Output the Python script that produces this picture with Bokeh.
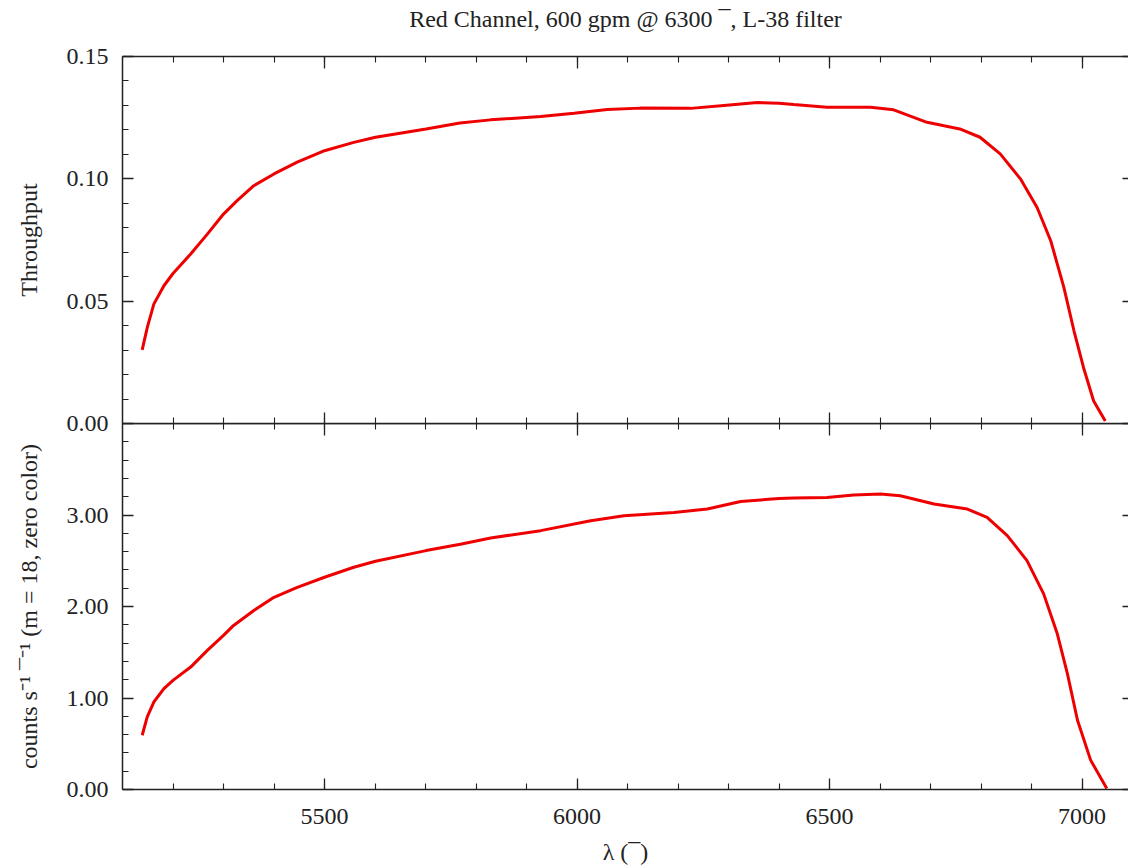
from bokeh.plotting import figure
from bokeh.layouts import column
from bokeh.models import LinearAxis, FixedTicker, NumeralTickFormatter, Range1d
from bokeh.embed import file_html
from bokeh.resources import INLINE

# ---- data ----
wave_top = [5139, 5149, 5162, 5182, 5200, 5235, 5268, 5300, 5327, 5360, 5400, 5446,
            5500, 5558, 5601, 5701, 5768, 5829, 5928, 5994, 6060, 6125, 6225, 6291,
            6357, 6400, 6429, 6495, 6581, 6627, 6693, 6758, 6798, 6838, 6878, 6911,
            6938, 6964, 6984, 7003, 7023, 7046]
throughput = [0.0301, 0.0392, 0.0488, 0.0563, 0.0613, 0.0693, 0.0774, 0.0856, 0.0911,
              0.0972, 0.1020, 0.1068, 0.1115, 0.1149, 0.1170, 0.1204, 0.1228, 0.1241,
              0.1255, 0.1268, 0.1283, 0.1289, 0.1288, 0.1300, 0.1312, 0.1309, 0.1304,
              0.1293, 0.1293, 0.1282, 0.1231, 0.1204, 0.1170, 0.1102, 0.1000, 0.0883,
              0.0747, 0.0556, 0.0379, 0.0228, 0.0092, 0.0010]

wave_bot = [5139, 5149, 5162, 5182, 5200, 5235, 5268, 5300, 5320, 5360, 5400, 5446,
            5500, 5558, 5601, 5701, 5769, 5829, 5928, 6027, 6093, 6192, 6258, 6324,
            6400, 6429, 6495, 6548, 6601, 6640, 6707, 6773, 6812, 6852, 6891, 6924,
            6951, 6971, 6991, 7017, 7049]
counts = [0.593, 0.793, 0.956, 1.102, 1.193, 1.338, 1.520, 1.684, 1.793, 1.956, 2.101,
          2.210, 2.320, 2.429, 2.494, 2.611, 2.680, 2.749, 2.829, 2.938, 2.992, 3.028,
          3.065, 3.148, 3.180, 3.185, 3.192, 3.218, 3.229, 3.210, 3.120, 3.065, 2.974,
          2.774, 2.502, 2.138, 1.702, 1.266, 0.757, 0.321, 0.012]

x_major = [5500, 6000, 6500, 7000]
x_minor = list(range(5200, 7100, 100))
top_major = [0.0, 0.05, 0.10, 0.15]
top_minor = [i / 100 for i in range(0, 16)]
bot_major = [0.0, 1.0, 2.0, 3.0]
bot_minor = [i / 5 for i in range(0, 21)]

title_text = "Red Channel, 600 gpm @ 6300 \u00af, L-38 filter"
xlabel = "\u03bb (\u00af)"
ylabel_top = "Throughput"
ylabel_bot = "counts s\u207b\u00b9 \u00af\u207b\u00b9 (m = 18, zero color)"

FONT = "Liberation Serif"
AX = "#222222"
RED = "#ee0000"
X0, X1 = 5100, 7092
W = 1128
LEFT = 122
EXTRA = 14  # overlap so the top panel's "0.00" label is not cut


def style_axis(ax, tick_in, minor_in, labels=True, line=True):
    ax.axis_line_color = AX if line else None
    ax.axis_line_width = 1.5
    ax.major_tick_line_color = AX
    ax.minor_tick_line_color = AX
    ax.major_tick_line_width = 1.3
    ax.minor_tick_line_width = 1.1
    ax.major_tick_in = tick_in
    ax.major_tick_out = 0
    ax.minor_tick_in = minor_in
    ax.minor_tick_out = 0
    ax.major_label_text_font = FONT
    ax.major_label_text_color = AX
    ax.axis_label_text_font = FONT
    ax.axis_label_text_font_style = "normal"
    ax.axis_label_text_color = AX
    if labels:
        ax.major_label_text_font_size = "24px"
    else:
        ax.major_label_text_font_size = "0px"
        ax.major_label_text_color = None
        ax.major_label_standoff = 0


def make_fig(height, yr, ymaj, ymin, ylab, border_top, border_bottom, top_label=None, **kw):
    p = figure(width=W, height=height, x_range=Range1d(X0, X1), y_range=Range1d(*yr),
               output_backend="svg", toolbar_location=None,
               x_axis_location=None, y_axis_location=None,
               min_border_left=LEFT, min_border_right=0,
               min_border_top=border_top, min_border_bottom=border_bottom, **kw)
    p.outline_line_color = None
    p.xgrid.visible = False
    p.ygrid.visible = False

    yt = FixedTicker(ticks=ymaj, minor_ticks=ymin)
    left = LinearAxis(ticker=yt, formatter=NumeralTickFormatter(format="0.00"),
                      axis_label=ylab)
    style_axis(left, 11, 6)
    left.major_label_standoff = 14
    left.axis_label_standoff = 22
    left.axis_label_text_font_size = "24px"
    p.add_layout(left, "left")

    right = LinearAxis(ticker=FixedTicker(ticks=ymaj, minor_ticks=ymin))
    style_axis(right, 6, 0, labels=False, line=False)
    p.add_layout(right, "right")

    above = LinearAxis(ticker=FixedTicker(ticks=x_major, minor_ticks=x_minor))
    style_axis(above, 12, 6, labels=False)
    if top_label:
        above.axis_label = top_label
        above.axis_label_text_font_size = "24px"
        above.axis_label_standoff = 25
    p.add_layout(above, "above")
    return p


# top panel: frame from y=56 to y=423; the chart title is the top axis label
top = make_fig(423 + EXTRA, (0, 0.15), top_major, top_minor, ylabel_top, 56, EXTRA,
               top_label=title_text)
below_t = LinearAxis(ticker=FixedTicker(ticks=x_major, minor_ticks=x_minor))
style_axis(below_t, 11, 6, labels=False)
top.add_layout(below_t, "below")
top.line(wave_top, throughput, line_color=RED, line_width=3)

# bottom panel: frame from y=423 to y=789
bot = make_fig(444, (0, 4.0), bot_major, bot_minor, ylabel_bot, 0, 78,
               margin=(-EXTRA, 0, 0, 0))
bot.border_fill_alpha = 0
bot.background_fill_alpha = 0
below_b = LinearAxis(ticker=FixedTicker(ticks=x_major, minor_ticks=x_minor),
                     axis_label=xlabel)
style_axis(below_b, 11, 6)
below_b.major_label_standoff = 19
below_b.axis_label_standoff = 12
below_b.axis_label_text_font_size = "24px"
bot.add_layout(below_b, "below")
bot.line(wave_bot, counts, line_color=RED, line_width=3)

layout = column(top, bot, spacing=0)
open("out.html", "w").write(file_html(layout, INLINE))
